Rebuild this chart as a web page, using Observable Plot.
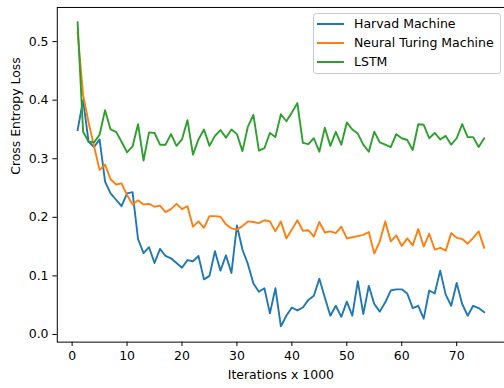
<!DOCTYPE html>
<html>
<head>
<meta charset="utf-8">
<script src="https://cdn.jsdelivr.net/npm/d3@7"></script>
<script src="https://cdn.jsdelivr.net/npm/@observablehq/plot@0.6"></script>
<style>
  html, body { margin: 0; padding: 0; background: white; overflow: hidden; }
  #wrap { position: relative; width: 504px; height: 388px; overflow: hidden; }
  #legend { position: absolute; left: 313px; top: 13px; width: 188px; height: 61px; box-sizing: border-box;
    border: 1px solid #cccccc; border-radius: 3px; background: rgba(255,255,255,0.8);
    font-family: "DejaVu Sans"; font-size: 12.5px; color: black; }
  .row { position: absolute; left: 3px; height: 19px; white-space: nowrap; }
  .swatch { position: absolute; left: 0; top: 8.5px; width: 27px; height: 2px; }
  .lbl { position: absolute; left: 37px; top: 0; line-height: 19px; }
</style>
</head>
<body>
<div id="wrap"></div>
<script>
const seriesNames = ["Harvad Machine", "Neural Turing Machine", "LSTM"];
const seriesColors = ["#1f77b4", "#ff7f0e", "#2ca02c"];

const iterations = [1,2,3,4,5,6,7,8,9,10,11,12,13,14,15,16,17,18,19,20,21,22,23,24,25,
  26,27,28,29,30,31,32,33,34,35,36,37,38,39,40,41,42,43,44,45,46,47,48,49,50,
  51,52,53,54,55,56,57,58,59,60,61,62,63,64,65,66,67,68,69,70,71,72,73,74,75];

const harvad = [0.349,0.400,0.329,0.320,0.333,0.261,0.241,0.230,0.219,0.241,
  0.243,0.163,0.139,0.149,0.122,0.146,0.134,0.130,0.122,0.114,
  0.127,0.125,0.134,0.094,0.100,0.142,0.109,0.135,0.105,0.186,
  0.145,0.120,0.087,0.073,0.079,0.036,0.079,0.014,0.032,0.046,
  0.041,0.046,0.059,0.066,0.095,0.063,0.032,0.049,0.030,0.056,
  0.032,0.091,0.035,0.083,0.052,0.039,0.055,0.075,0.077,0.077,
  0.070,0.045,0.049,0.027,0.075,0.070,0.109,0.068,0.049,0.088,
  0.052,0.032,0.049,0.045,0.038];

const ntm = [0.516,0.409,0.362,0.321,0.281,0.290,0.265,0.256,0.258,0.238,
  0.222,0.229,0.222,0.223,0.218,0.220,0.209,0.214,0.223,0.214,
  0.219,0.184,0.193,0.182,0.202,0.202,0.201,0.188,0.181,0.179,
  0.185,0.193,0.192,0.190,0.195,0.193,0.176,0.193,0.164,0.179,
  0.195,0.177,0.178,0.167,0.192,0.174,0.176,0.173,0.184,0.164,
  0.166,0.168,0.170,0.175,0.138,0.159,0.193,0.159,0.169,0.151,
  0.164,0.152,0.180,0.150,0.172,0.145,0.148,0.143,0.173,0.165,
  0.163,0.155,0.165,0.176,0.148];

const lstm = [0.533,0.346,0.329,0.328,0.341,0.383,0.350,0.346,0.329,0.311,
  0.321,0.359,0.297,0.345,0.344,0.324,0.324,0.342,0.322,0.333,
  0.366,0.307,0.333,0.350,0.322,0.339,0.349,0.336,0.350,0.342,
  0.313,0.355,0.375,0.314,0.318,0.344,0.337,0.376,0.364,0.379,
  0.395,0.327,0.325,0.335,0.312,0.353,0.322,0.346,0.324,0.362,
  0.350,0.343,0.324,0.312,0.346,0.328,0.324,0.320,0.342,0.335,
  0.332,0.315,0.359,0.358,0.335,0.344,0.333,0.339,0.324,0.335,
  0.359,0.337,0.337,0.320,0.335];

const xTicks = [0, 10, 20, 30, 40, 50, 60, 70];
const yTicks = [0.0, 0.1, 0.2, 0.3, 0.4, 0.5];
const xLabel = "Iterations x 1000";
const yLabel = "Cross Entropy Loss";

const allValues = [harvad, ntm, lstm];
const rows = [];
allValues.forEach((vals, s) => vals.forEach((v, i) => rows.push({series: seriesNames[s], iter: iterations[i], loss: v})));

const chart = Plot.plot({
  width: 506,
  height: 388,
  marginLeft: 57,
  marginRight: 0,
  marginTop: 7,
  marginBottom: 45,
  style: {fontFamily: "DejaVu Sans", fontSize: "12.5px", color: "black", background: "white", overflow: "visible"},
  x: {domain: [-2.7, 78.7]},
  y: {domain: [-0.0131, 0.5583]},
  color: {domain: seriesNames, range: seriesColors},
  marks: [
    Plot.axisX({ticks: xTicks, tickSize: 4.4, tickPadding: 4.4, tickFormat: d => String(d), label: null, fontSize: 12.5, stroke: "black"}),
    Plot.axisY({ticks: yTicks, tickSize: 4.4, tickPadding: 4.4, tickFormat: d3.format(".1f"), label: null, fontSize: 12.5, stroke: "black"}),
    ...seriesNames.map(name => Plot.line(rows.filter(r => r.series === name), {
      x: "iter", y: "loss", stroke: "series", strokeWidth: 1.9, strokeLinejoin: "round", strokeLinecap: "square"
    })),
    Plot.frame({stroke: "black", strokeWidth: 1}),
    Plot.text([xLabel], {frameAnchor: "bottom", dy: 37, fontSize: 12.5, fill: "black"}),
    Plot.text([yLabel], {frameAnchor: "left", dx: -41, rotate: -90, fontSize: 12.5, fill: "black"})
  ]
});

const wrap = document.getElementById("wrap");
wrap.appendChild(chart);

const legend = document.createElement("div");
legend.id = "legend";
seriesNames.forEach((name, i) => {
  const row = document.createElement("div");
  row.className = "row";
  row.style.top = (i * 19.2) + "px";
  const sw = document.createElement("div");
  sw.className = "swatch";
  sw.style.background = seriesColors[i];
  const label = document.createElement("div");
  label.className = "lbl";
  label.textContent = name;
  row.appendChild(sw);
  row.appendChild(label);
  legend.appendChild(row);
});
wrap.appendChild(legend);
</script>
</body>
</html>
